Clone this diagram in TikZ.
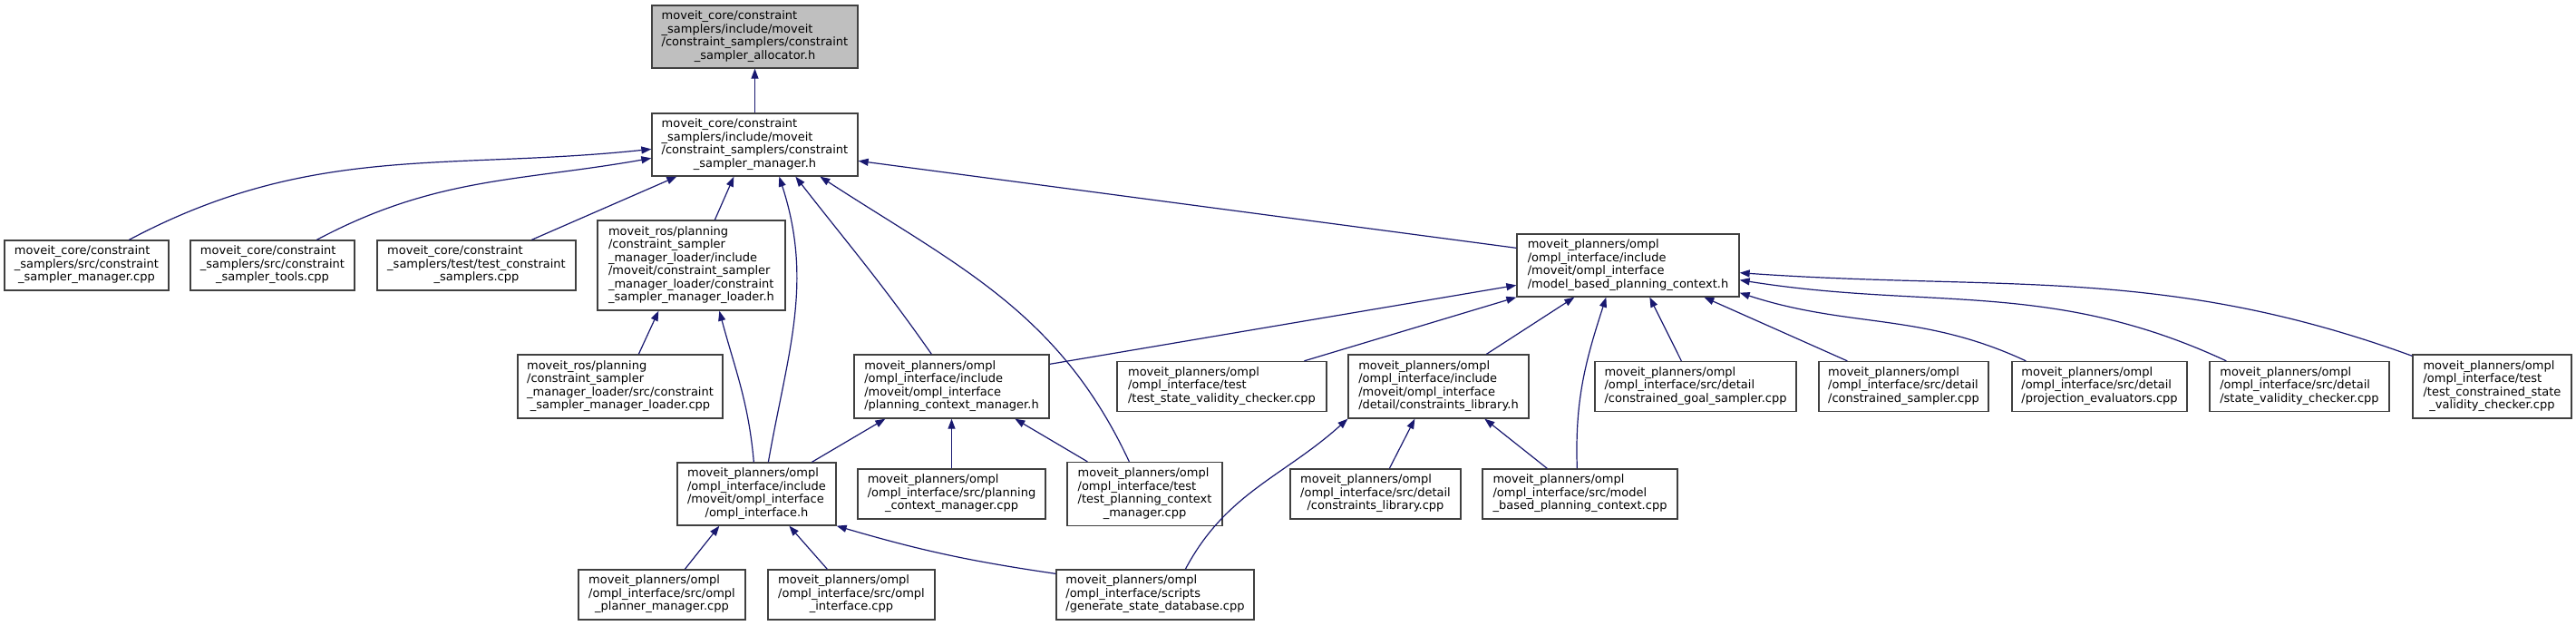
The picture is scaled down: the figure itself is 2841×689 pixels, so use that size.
\documentclass[tikz,border=0pt]{standalone}
\usepackage{fontspec}
\setmainfont{DejaVu Sans}
\usepackage{xcolor}
\usepackage{tikz}
\usetikzlibrary{arrows.meta}
\definecolor{depblue}{HTML}{191970}
\definecolor{boxgrey}{HTML}{404040}
\definecolor{rootgrey}{HTML}{BFBFBF}
% left aligned lines, last line centred
\newcommand{\flab}[2]{\begin{tabular}{@{}l@{}}#1\\\multicolumn{1}{@{}c@{}}{#2}\end{tabular}}

\begin{document}
\begin{tikzpicture}[
    x=1pt, y=-1pt,
    hdr/.style={draw=boxgrey, line width=1.3pt, fill=white, inner sep=0pt,
                font=\fontsize{13}{14.5}\selectfont},
    dep/.style={draw=depblue, line width=1.2pt,
                -{Triangle[length=11pt,width=8pt]}, depblue}
  ]
    \path[use as bounding box] (0,0) rectangle (2841,689);

    % rank 0
    \node[hdr, fill=rootgrey, minimum width=227pt, minimum height=69pt] (a) at (832.5,40.5)
      {\flab{moveit\_core/constraint\\\_samplers/include/moveit\\/constraint\_samplers/constraint}{\_sampler\_allocator.h}};

    % rank 1
    \node[hdr, minimum width=227pt, minimum height=69pt] (b) at (832.5,159.5)
      {\flab{moveit\_core/constraint\\\_samplers/include/moveit\\/constraint\_samplers/constraint}{\_sampler\_manager.h}};

    % rank 2
    \node[hdr, minimum width=181pt, minimum height=55pt] (c1) at (95.5,292.5)
      {\flab{moveit\_core/constraint\\\_samplers/src/constraint}{\_sampler\_manager.cpp}};
    \node[hdr, minimum width=181pt, minimum height=55pt] (c2) at (300.5,292.5)
      {\flab{moveit\_core/constraint\\\_samplers/src/constraint}{\_sampler\_tools.cpp}};
    \node[hdr, minimum width=219pt, minimum height=55pt] (c3) at (525.5,292.5)
      {\flab{moveit\_core/constraint\\\_samplers/test/test\_constraint}{\_samplers.cpp}};
    \node[hdr, minimum width=207pt, minimum height=99pt] (l) at (762.5,292.5)
      {\flab{moveit\_ros/planning\\/constraint\_sampler\\\_manager\_loader/include\\/moveit/constraint\_sampler\\\_manager\_loader/constraint}{\_sampler\_manager\_loader.h}};
    \node[hdr, minimum width=245pt, minimum height=69pt] (mbpc) at (1795.5,292.5)
      {\flab{moveit\_planners/ompl\\/ompl\_interface/include\\/moveit/ompl\_interface}{/model\_based\_planning\_context.h}};

    % rank 3
    \node[hdr, minimum width=226pt, minimum height=70pt] (lc) at (684,426)
      {\flab{moveit\_ros/planning\\/constraint\_sampler\\\_manager\_loader/src/constraint}{\_sampler\_manager\_loader.cpp}};
    \node[hdr, minimum width=215pt, minimum height=70pt] (pcm) at (1049.5,426)
      {\flab{moveit\_planners/ompl\\/ompl\_interface/include\\/moveit/ompl\_interface}{/planning\_context\_manager.h}};
    \node[hdr, minimum width=231pt, minimum height=55pt] (tsvc) at (1347.5,426)
      {\flab{moveit\_planners/ompl\\/ompl\_interface/test}{/test\_state\_validity\_checker.cpp}};
    \node[hdr, minimum width=199pt, minimum height=70pt] (cl) at (1586.5,426)
      {\flab{moveit\_planners/ompl\\/ompl\_interface/include\\/moveit/ompl\_interface}{/detail/constraints\_library.h}};
    \node[hdr, minimum width=222pt, minimum height=55pt] (cgs) at (1870,426)
      {\flab{moveit\_planners/ompl\\/ompl\_interface/src/detail}{/constrained\_goal\_sampler.cpp}};
    \node[hdr, minimum width=187pt, minimum height=55pt] (cs) at (2099.5,426)
      {\flab{moveit\_planners/ompl\\/ompl\_interface/src/detail}{/constrained\_sampler.cpp}};
    \node[hdr, minimum width=193pt, minimum height=55pt] (pe) at (2315.5,426)
      {\flab{moveit\_planners/ompl\\/ompl\_interface/src/detail}{/projection\_evaluators.cpp}};
    \node[hdr, minimum width=198pt, minimum height=55pt] (svc) at (2536,426)
      {\flab{moveit\_planners/ompl\\/ompl\_interface/src/detail}{/state\_validity\_checker.cpp}};
    \node[hdr, minimum width=175pt, minimum height=70pt] (tcsvc) at (2748.5,426)
      {\flab{moveit\_planners/ompl\\/ompl\_interface/test\\/test\_constrained\_state}{\_validity\_checker.cpp}};

    % rank 4
    \node[hdr, minimum width=175pt, minimum height=69pt] (oi) at (834.5,544.5)
      {\flab{moveit\_planners/ompl\\/ompl\_interface/include\\/moveit/ompl\_interface}{/ompl\_interface.h}};
    \node[hdr, minimum width=207pt, minimum height=55pt] (pcmc) at (1049.5,544.5)
      {\flab{moveit\_planners/ompl\\/ompl\_interface/src/planning}{\_context\_manager.cpp}};
    \node[hdr, minimum width=171pt, minimum height=70pt] (tpcm) at (1262.5,544.5)
      {\flab{moveit\_planners/ompl\\/ompl\_interface/test\\/test\_planning\_context}{\_manager.cpp}};
    \node[hdr, minimum width=188pt, minimum height=55pt] (clc) at (1517,544.5)
      {\flab{moveit\_planners/ompl\\/ompl\_interface/src/detail}{/constraints\_library.cpp}};
    \node[hdr, minimum width=215pt, minimum height=55pt] (mbpcc) at (1742.5,544.5)
      {\flab{moveit\_planners/ompl\\/ompl\_interface/src/model}{\_based\_planning\_context.cpp}};

    % rank 5
    \node[hdr, minimum width=184pt, minimum height=55pt] (pm) at (730,655.5)
      {\flab{moveit\_planners/ompl\\/ompl\_interface/src/ompl}{\_planner\_manager.cpp}};
    \node[hdr, minimum width=184pt, minimum height=55pt] (oic) at (939,655.5)
      {\flab{moveit\_planners/ompl\\/ompl\_interface/src/ompl}{\_interface.cpp}};
    \node[hdr, minimum width=218pt, minimum height=55pt] (gsd) at (1274,655.5)
      {\flab{moveit\_planners/ompl\\/ompl\_interface/scripts}{/generate\_state\_database.cpp}};

    % Arrows into the manager header
    \draw[dep] (b.north) -- (a.south);
    \draw[dep] ([xshift=138pt]c1.north west) to[out=28,in=186] ([yshift=-40pt]b.north west);
    \draw[dep] ([xshift=140pt]c2.north west) to[out=28,in=190] ([yshift=-50pt]b.north west);
    \draw[dep] ([xshift=171pt]c3.north west) -- ([xshift=28pt]b.south west);
    \draw[dep] ([xshift=130pt]l.north west) -- ([xshift=91pt]b.south west);
    \draw[dep] ([xshift=101pt]oi.north west) to[out=80,in=-72] ([xshift=141pt]b.south west);
    \draw[dep] ([xshift=86pt]pcm.north west) to[out=125,in=-52] ([xshift=159pt]b.south west);
    \draw[dep] ([xshift=69pt]tpcm.north west) to[out=115,in=-33] ([xshift=186pt]b.south west);
    \draw[dep] ([yshift=-16pt]mbpc.north west) -- ([yshift=-53pt]b.north east);

    % Loader and ompl interface
    \draw[dep] ([xshift=134pt]lc.north west) -- ([xshift=68pt]l.south west);
    \draw[dep] ([xshift=85pt]oi.north west) to[out=95,in=-75] ([xshift=135pt]l.south west);
    \draw[dep] ([xshift=149pt]oi.north west) -- ([xshift=35pt]pcm.south west);
    \draw[dep] ([xshift=118pt]pm.north west) -- ([xshift=47pt]oi.south west);
    \draw[dep] ([xshift=66pt]oic.north west) -- ([xshift=124pt]oi.south west);
    \draw[dep] ([yshift=-5pt]gsd.north west) to[bend left=4] (oi.south east);

    % Planning context manager
    \draw[dep] (pcmc.north) -- (pcm.south);
    \draw[dep] ([xshift=23pt]tpcm.north west) -- ([xshift=178pt]pcm.south west);
    \draw[dep] ([yshift=-11pt]pcm.north east) -- ([yshift=-57pt]mbpc.north west);

    % Model based planning context
    \draw[dep] ([xshift=207pt]tsvc.north west) -- (mbpc.south west);
    \draw[dep] ([xshift=153pt]cl.north west) -- ([xshift=64pt]mbpc.south west);
    \draw[dep] ([xshift=105pt]mbpcc.north west) to[out=92,in=-108] ([xshift=99pt]mbpc.south west);
    \draw[dep] ([xshift=96pt]cgs.north west) -- ([xshift=147pt]mbpc.south west);
    \draw[dep] ([xshift=32pt]cs.north west) -- ([xshift=207pt]mbpc.south west);
    \draw[dep] ([xshift=16pt]pe.north west) to[out=155,in=-18] ([yshift=5pt]mbpc.south east);
    \draw[dep] ([xshift=19pt]svc.north west) to[out=155,in=-9] ([yshift=19pt]mbpc.south east);
    \draw[dep] ([yshift=-2pt]tcsvc.north west) to[out=160,in=-4] ([yshift=27pt]mbpc.south east);

    % Constraints library
    \draw[dep] ([xshift=143pt]gsd.north west) to[out=62,in=-138] (cl.south west);
    \draw[dep] ([xshift=110pt]clc.north west) -- ([xshift=74pt]cl.south west);
    \draw[dep] ([xshift=72pt]mbpcc.north west) -- ([xshift=151pt]cl.south west);
  \end{tikzpicture}
\end{document}
